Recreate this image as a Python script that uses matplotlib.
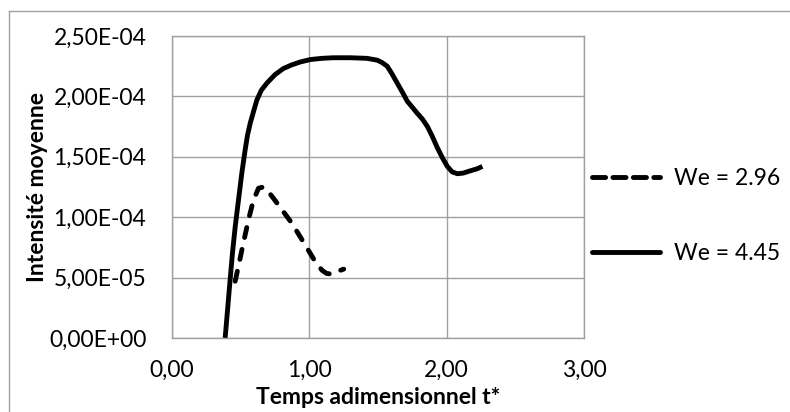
import matplotlib

matplotlib.use("Agg")

import matplotlib.pyplot as plt
from matplotlib.lines import Line2D
from matplotlib.ticker import FuncFormatter

# Data
t_we296 = [0.46, 0.485, 0.509, 0.557, 0.593, 0.63, 0.666, 0.703, 0.776,
           0.873, 0.97, 1.044, 1.093, 1.125, 1.153, 1.2, 1.25]
i_we296 = [0.47e-4, 0.60e-4, 0.73e-4, 0.98e-4, 1.14e-4, 1.24e-4, 1.25e-4,
           1.21e-4, 1.10e-4, 0.95e-4, 0.77e-4, 0.63e-4, 0.56e-4, 0.535e-4,
           0.53e-4, 0.55e-4, 0.57e-4]

t_we445 = [0.387, 0.405, 0.423, 0.44, 0.46, 0.485, 0.509, 0.533, 0.55,
           0.57, 0.595, 0.618, 0.65, 0.691, 0.75, 0.81, 0.87, 0.934, 1.007,
           1.09, 1.175, 1.3, 1.42, 1.494, 1.53, 1.567, 1.60, 1.64, 1.68,
           1.713, 1.75, 1.786, 1.825, 1.86, 1.895, 1.93, 1.97, 2.005, 2.04,
           2.078, 2.12, 2.175, 2.22, 2.26]
i_we445 = [0.0, 0.24e-4, 0.48e-4, 0.70e-4, 0.92e-4, 1.15e-4, 1.37e-4,
           1.56e-4, 1.68e-4, 1.78e-4, 1.88e-4, 1.97e-4, 2.05e-4, 2.11e-4,
           2.18e-4, 2.23e-4, 2.26e-4, 2.285e-4, 2.305e-4, 2.315e-4, 2.32e-4,
           2.32e-4, 2.315e-4, 2.30e-4, 2.28e-4, 2.25e-4, 2.19e-4, 2.11e-4,
           2.03e-4, 1.96e-4, 1.91e-4, 1.86e-4, 1.81e-4, 1.75e-4, 1.67e-4,
           1.58e-4, 1.49e-4, 1.42e-4, 1.375e-4, 1.36e-4, 1.365e-4, 1.385e-4,
           1.40e-4, 1.42e-4]

x_ticks = [0, 1, 2, 3]
y_ticks = [0, 0.5e-4, 1.0e-4, 1.5e-4, 2.0e-4, 2.5e-4]

labels = ["We = 2.96", "We = 4.45"]

_W, _H = 790, 412
_GRID = "#a0a0a0"
_FONT = "Lato"
_FS = 16.5
_LW = 3.5

plt.rcParams["font.family"] = [_FONT, "DejaVu Sans"]

fig = plt.figure(figsize=(_W / 100, _H / 100), dpi=100)
ax = fig.add_axes([172 / _W, 1 - 338 / _H, (584 - 172) / _W, (338 - 36) / _H])

ax.plot(t_we296, i_we296, color="black", linewidth=_LW,
        linestyle=(0, (2.1, 2.5)), dash_capstyle="round",
        dash_joinstyle="round", label=labels[0])
ax.plot(t_we445, i_we445, color="black", linewidth=_LW,
        solid_capstyle="butt", solid_joinstyle="round", label=labels[1])

ax.set_xlim(0, 3)
ax.set_ylim(0, 2.5e-4)
ax.set_xticks(x_ticks)
ax.set_yticks(y_ticks)
ax.xaxis.set_major_formatter(FuncFormatter(lambda v, _: f"{v:.2f}".replace(".", ",")))
ax.yaxis.set_major_formatter(FuncFormatter(lambda v, _: f"{v:.2E}".replace(".", ",")))
ax.tick_params(length=0, labelsize=_FS, colors="black")
ax.tick_params(axis="x", pad=16)
ax.tick_params(axis="y", pad=18.5)

ax.grid(True, color=_GRID, linewidth=1)
ax.set_axisbelow(True)
for spine in ax.spines.values():
    spine.set_color(_GRID)
    spine.set_linewidth(1)

ax.set_xlabel("Temps adimensionnel t*", fontsize=_FS, fontweight="bold", labelpad=4)
ax.set_ylabel("Intensité moyenne", fontsize=_FS, fontweight="bold", labelpad=1)

# legend handles: Excel draws the legend dash a bit longer than on the curve
handles = [
    Line2D([], [], color="black", linewidth=_LW, linestyle=(0, (2.7, 1.5)),
           dash_capstyle="round"),
    Line2D([], [], color="black", linewidth=_LW, solid_capstyle="round"),
]
leg = ax.legend(handles, labels, loc="center left",
                bbox_to_anchor=(592 / _W, 1 - 216 / _H),
                bbox_transform=fig.transFigure, frameon=False, fontsize=_FS,
                handlelength=2.95, handletextpad=0.65, labelspacing=2.35,
                borderpad=0, borderaxespad=0)

# outer chart border (Excel chart area)
fig.add_artist(Line2D([9 / _W, 9 / _W], [0, 1 - 11 / _H], color=_GRID,
                      linewidth=1, transform=fig.transFigure))
fig.add_artist(Line2D([9 / _W, 1], [1 - 11 / _H, 1 - 11 / _H], color=_GRID,
                      linewidth=1, transform=fig.transFigure))

fig.savefig("out.png", dpi=100, facecolor="white")
plt.close(fig)
